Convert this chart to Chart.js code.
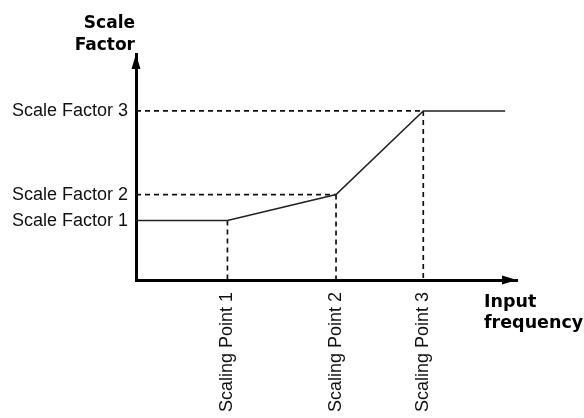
<!DOCTYPE html>
<html>
<head>
<meta charset="utf-8">
<script src="https://cdn.jsdelivr.net/npm/chart.js@4/dist/chart.umd.min.js"></script>
<style>
  html, body { margin: 0; padding: 0; background: #fff; }
</style>
</head>
<body>
<canvas id="canvas" width="584" height="418"></canvas>
<script>
// scale factors (y) and scaling points (x), in arbitrary units 0..10
var factorLabels = ["Scale Factor 1", "Scale Factor 2", "Scale Factor 3"];
var factorValues = [2.63, 3.78, 7.48];
var pointLabels = ["Scaling Point 1", "Scaling Point 2", "Scaling Point 3"];
var pointValues = [2.40, 5.25, 7.54];
var curveX = [0, 2.40, 5.25, 7.54, 9.69];
var curveY = [2.63, 2.63, 3.78, 7.48, 7.48];

var regular = "'Liberation Sans', Arial, sans-serif";
var bold = "'DejaVu Sans', Verdana, sans-serif";

var curve = [];
for (var i = 0; i < curveX.length; i++) curve.push({x: curveX[i], y: curveY[i]});

function dashed(pts) {
  return {
    data: pts,
    borderColor: "#111",
    borderWidth: 1.7,
    borderDash: [5, 4],
    pointRadius: 0,
    showLine: true,
    fill: false
  };
}

var sets = [{
  data: curve,
  borderColor: "#222",
  borderWidth: 1.6,
  pointRadius: 0,
  showLine: true,
  fill: false
}];
// horizontal guides for factor 2 and 3
sets.push(dashed([{x: 0, y: factorValues[2]}, {x: pointValues[2], y: factorValues[2]}]));
sets.push(dashed([{x: 0, y: factorValues[1]}, {x: pointValues[1], y: factorValues[1]}]));
// vertical guides down from each point
for (var j = 0; j < pointValues.length; j++) {
  sets.push(dashed([{x: pointValues[j], y: factorValues[j]}, {x: pointValues[j], y: 0}]));
}

var extras = {
  id: "extras",
  afterDraw: function(chart) {
    var c = chart.ctx, a = chart.chartArea;
    c.save();
    c.fillStyle = "#000";
    // arrow heads
    c.beginPath();
    c.moveTo(a.left, a.top);
    c.lineTo(a.left - 4.5, a.top + 15);
    c.lineTo(a.left + 4.5, a.top + 15);
    c.closePath();
    c.fill();
    c.beginPath();
    c.moveTo(a.right, a.bottom);
    c.lineTo(a.right - 15, a.bottom - 4.5);
    c.lineTo(a.right - 15, a.bottom + 4.5);
    c.closePath();
    c.fill();
    // axis titles
    c.font = "bold 17px " + bold;
    c.textBaseline = "alphabetic";
    c.textAlign = "right";
    c.fillText("Scale", a.left - 1, a.top - 26);
    c.fillText("Factor", a.left - 1, a.top - 4);
    c.font = "bold 17.5px " + bold;
    c.textAlign = "left";
    c.fillText("Input", a.right - 33, a.bottom + 27);
    c.fillText("frequency", a.right - 33, a.bottom + 48);
    c.restore();
  }
};

var config = {
  type: "scatter",
  data: {datasets: sets},
  options: {
    responsive: false,
    animation: false,
    devicePixelRatio: 1,
    layout: {padding: {top: 54, right: 67, bottom: 0, left: 0}},
    plugins: {legend: {display: false}, tooltip: {enabled: false}},
    scales: {
      x: {
        type: "linear",
        min: 0,
        max: 10,
        grid: {display: false, drawTicks: false},
        border: {display: true, color: "#000", width: 3},
        afterBuildTicks: function(s) { s.ticks = pointValues.map(function(v) { return {value: v}; }); },
        afterFit: function(s) { s.height = 138; },
        ticks: {
          autoSkip: false,
          minRotation: 90,
          maxRotation: 90,
          padding: 12,
          color: "#111",
          font: {family: regular, size: 18},
          callback: function(v, i) { return pointLabels[i]; }
        }
      },
      y: {
        type: "linear",
        min: 0,
        max: 10,
        grid: {display: false, drawTicks: false},
        border: {display: true, color: "#000", width: 3},
        afterBuildTicks: function(s) { s.ticks = factorValues.map(function(v) { return {value: v}; }); },
        afterFit: function(s) { s.width = 136; },
        ticks: {
          padding: 8,
          color: "#111",
          font: {family: regular, size: 18},
          callback: function(v, i) { return factorLabels[i]; }
        }
      }
    }
  },
  plugins: [extras]
};

window.onload = function() {
  var ctx = document.getElementById("canvas").getContext("2d");
  window.graph1 = new Chart(ctx, config);
};
</script>
</body>
</html>
